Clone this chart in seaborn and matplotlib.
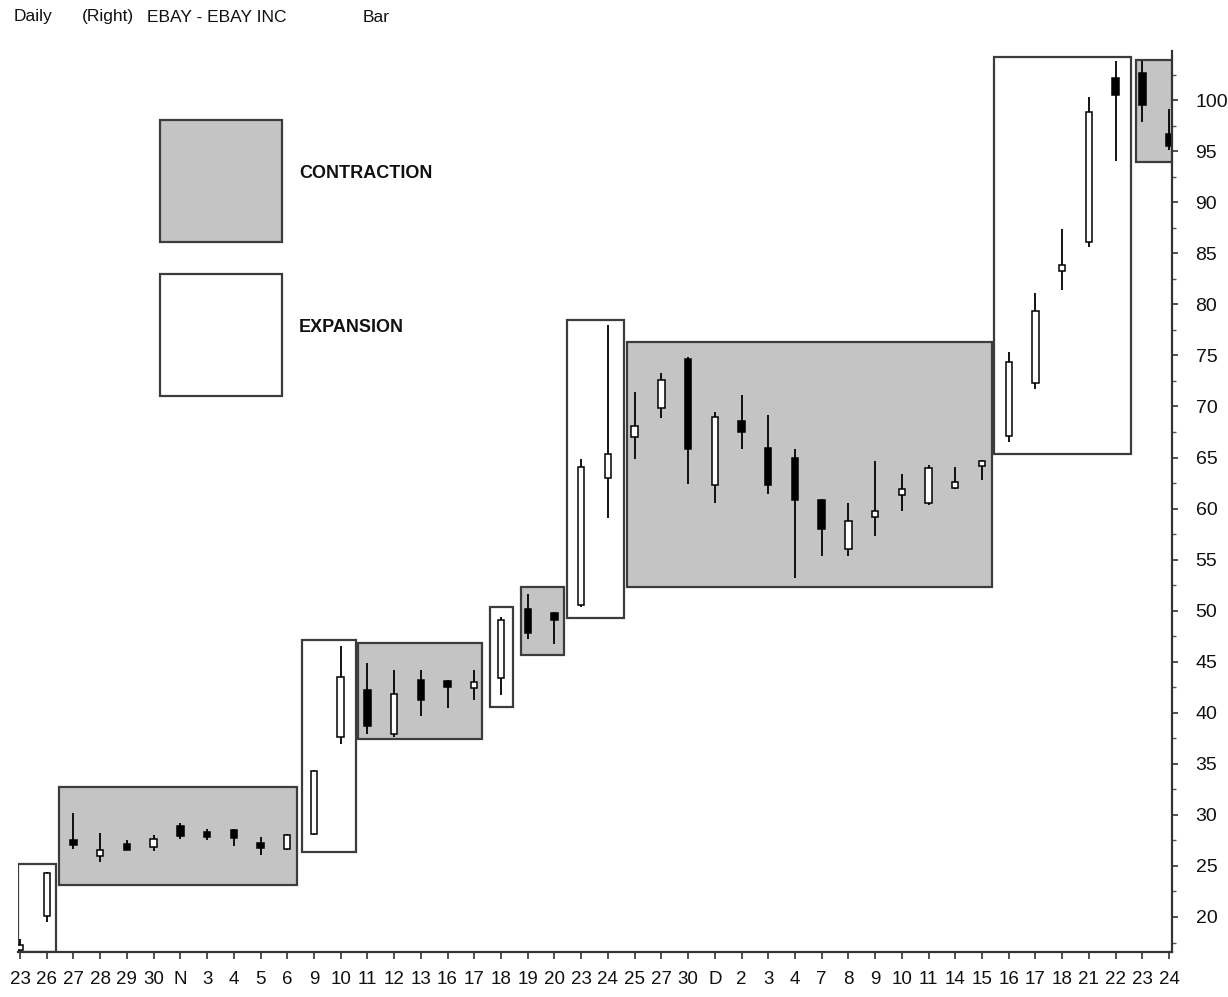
import matplotlib
matplotlib.use("Agg")
import matplotlib.pyplot as plt
import seaborn as sns
import numpy as np
import pandas as pd
from matplotlib.patches import Rectangle

# ---------------- data ----------------
day_labels = ["23", "26", "27", "28", "29", "30", "N", "3", "4", "5", "6", "9", "10", "11",
              "12", "13", "16", "17", "18", "19", "20", "23", "24", "25", "27", "30", "D",
              "2", "3", "4", "7", "8", "9", "10", "11", "14", "15", "16", "17", "18", "21",
              "22", "23", "24"]
month_starts = ["N", "D"]

opens = [16.9, 20.1, 27.4, 26.0, 27.0, 26.9, 28.9, 28.15, 28.5, 27.05, 26.7, 28.1, 37.6, 42.2,
         37.9, 43.2, 43.1, 42.5, 43.4, 50.2, 49.8, 50.6, 63.0, 67.0, 69.9, 74.65, 62.3,
         68.6, 65.9, 65.0, 60.8, 56.0, 59.2, 61.3, 60.5, 62.0, 64.2, 67.15, 72.3, 83.3,
         86.1, 102.2, 102.7, 96.7]
closes = [17.1, 24.3, 27.2, 26.6, 26.7, 27.6, 27.9, 28.0, 27.7, 26.95, 28.0, 34.3, 43.5, 38.7,
          41.8, 41.25, 42.5, 42.9, 49.1, 47.85, 49.1, 64.1, 65.3, 68.05, 72.6, 65.8, 69.0,
          67.55, 62.3, 60.8, 58.05, 58.8, 59.8, 61.9, 64.0, 62.6, 64.6, 74.4, 79.4, 83.9,
          98.8, 100.5, 99.5, 95.5]
highs = [17.8, 24.4, 30.2, 28.2, 27.5, 28.0, 29.2, 28.6, 28.6, 27.8, 28.1, 34.4, 46.5, 44.9,
         44.2, 44.2, 43.2, 44.2, 49.4, 51.6, 49.9, 64.9, 78.0, 71.4, 73.25, 74.8, 69.5,
         71.1, 69.2, 65.8, 60.9, 60.5, 64.7, 63.4, 64.3, 64.1, 64.8, 75.3, 81.1, 87.4,
         100.3, 103.8, 103.85, 99.1]
lows = [16.7, 19.5, 26.7, 25.4, 26.6, 26.5, 27.6, 27.5, 27.0, 26.05, 26.6, 28.0, 36.9, 37.9,
        37.6, 39.7, 40.5, 41.25, 41.7, 47.2, 46.7, 50.4, 59.1, 64.9, 68.85, 62.4, 60.5,
        65.8, 61.4, 53.2, 55.35, 55.35, 57.3, 59.8, 60.4, 61.9, 62.8, 66.5, 71.75, 81.4,
        85.6, 94.0, 97.9, 95.1]

# regions (contraction / expansion boxes)
box_kind = ["E", "C", "E", "C", "E", "C", "E", "C", "E", "C"]
box_x0 = [-0.07, 1.46, 10.54, 12.64, 17.59, 18.74, 20.48, 22.73, 36.45, 41.76]
box_x1 = [1.35, 10.37, 12.57, 17.28, 18.46, 20.36, 22.60, 36.37, 41.57, 43.14]
box_lo = [16.6, 23.1, 26.4, 37.4, 40.6, 45.7, 49.3, 52.3, 65.3, 93.9]
box_hi = [25.15, 32.7, 47.1, 46.8, 50.4, 52.3, 78.5, 76.3, 104.2, 103.9]

y_ticks = list(range(20, 101, 5))
legend_labels = ["CONTRACTION", "EXPANSION"]
header = ["Daily", "(Right)", "EBAY - EBAY INC", "Bar"]

# ---------------- style ----------------
sns.set_theme(style="white")
FONT = ["Liberation Sans", "DejaVu Sans"]
plt.rcParams["font.family"] = FONT

W, H = 1228, 997
fig = plt.figure(figsize=(W / 100, H / 100), dpi=100)
fig.patch.set_facecolor("white")
ax = fig.add_axes([18 / W, 1 - 952 / H, (1172 - 18) / W, (952 - 51) / H])
ax.set_facecolor("white")

GRAY = "#c4c4c4"
EDGE = "#3c3c3c"

df = pd.DataFrame({"i": np.arange(len(opens)), "o": opens, "c": closes, "h": highs, "l": lows})
df["bot"] = df[["o", "c"]].min(axis=1)
df["top"] = df[["o", "c"]].max(axis=1)
df["up"] = df["c"] >= df["o"]

bx = pd.DataFrame({"kind": box_kind, "x0": box_x0, "x1": box_x1, "lo": box_lo, "hi": box_hi})
ax.bar(bx["x0"], bx["hi"] - bx["lo"], bottom=bx["lo"], width=bx["x1"] - bx["x0"], align="edge",
       color=[GRAY if k == "C" else "white" for k in bx["kind"]], edgecolor=EDGE, linewidth=1.6,
       zorder=1)

# wicks
ax.vlines(df["i"], df["l"], df["h"], color="black", linewidth=1.3, zorder=2)
# bodies
minh = 0.55
hgt = np.maximum(df["top"] - df["bot"], minh)
mid = (df["top"] + df["bot"]) / 2
bot = np.where(df["top"] - df["bot"] < minh, mid - minh / 2, df["bot"])
ax.bar(df["i"], hgt, bottom=bot, width=0.24,
       color=["white" if u else "black" for u in df["up"]], edgecolor="black", linewidth=1.1,
       zorder=3)

ax.set_xlim(-0.075, 43.11)
ax.set_ylim(16.57, 104.82)

# axes / spines
for s in ["left", "top"]:
    ax.spines[s].set_visible(False)
for s in ["bottom", "right"]:
    ax.spines[s].set_color("#333333")
    ax.spines[s].set_linewidth(1.6)
    ax.spines[s].set_zorder(5)

ax.yaxis.tick_right()
ax.set_yticks(y_ticks)
ax.set_yticklabels([str(v) for v in y_ticks])
ax.set_yticks(np.arange(17.5, 104, 5), minor=True)
ax.tick_params(axis="y", which="major", direction="out", length=4, width=1.2, color="#333333",
               pad=13, labelsize=14, labelcolor="#111111", right=True, left=False)
ax.tick_params(axis="y", which="minor", direction="out", length=3, width=1.0, color="#555555",
               right=True, left=False)

ax.set_xticks(df["i"])
ax.set_xticklabels(day_labels)
ms = [i for i, d in enumerate(day_labels) if d in month_starts]
ax.set_xticks(ms, minor=True)
ax.tick_params(axis="x", which="major", direction="out", length=5, width=1.2, color="#333333",
               pad=9, labelsize=13.5, labelcolor="#111111", bottom=True)
ax.tick_params(axis="x", which="minor", direction="out", length=13, width=1.2, color="#333333",
               bottom=True)
ax.grid(False)

# legend boxes
def px(x, y):
    return x / W, 1 - y / H

x0, y0 = px(160, 242)
fig.patches.append(Rectangle((x0, y0), 122 / W, 122 / H, transform=fig.transFigure,
                             facecolor=GRAY, edgecolor=EDGE, linewidth=1.6))
x0, y0 = px(160, 396)
fig.patches.append(Rectangle((x0, y0), 122 / W, 122 / H, transform=fig.transFigure,
                             facecolor="white", edgecolor=EDGE, linewidth=1.6))
fig.text(*px(299, 174), legend_labels[0], fontsize=13, fontweight="bold",
         va="center", ha="left", color="#111111")
fig.text(*px(299, 328), legend_labels[1], fontsize=13, fontweight="bold",
         va="center", ha="left", color="#111111")

# header
for xp, t in zip([14, 82, 147, 363], header):
    fig.text(*px(xp, 17), t, fontsize=12.5, va="center", ha="left", color="#111111")

fig.savefig("out.png", dpi=100, facecolor="white")
